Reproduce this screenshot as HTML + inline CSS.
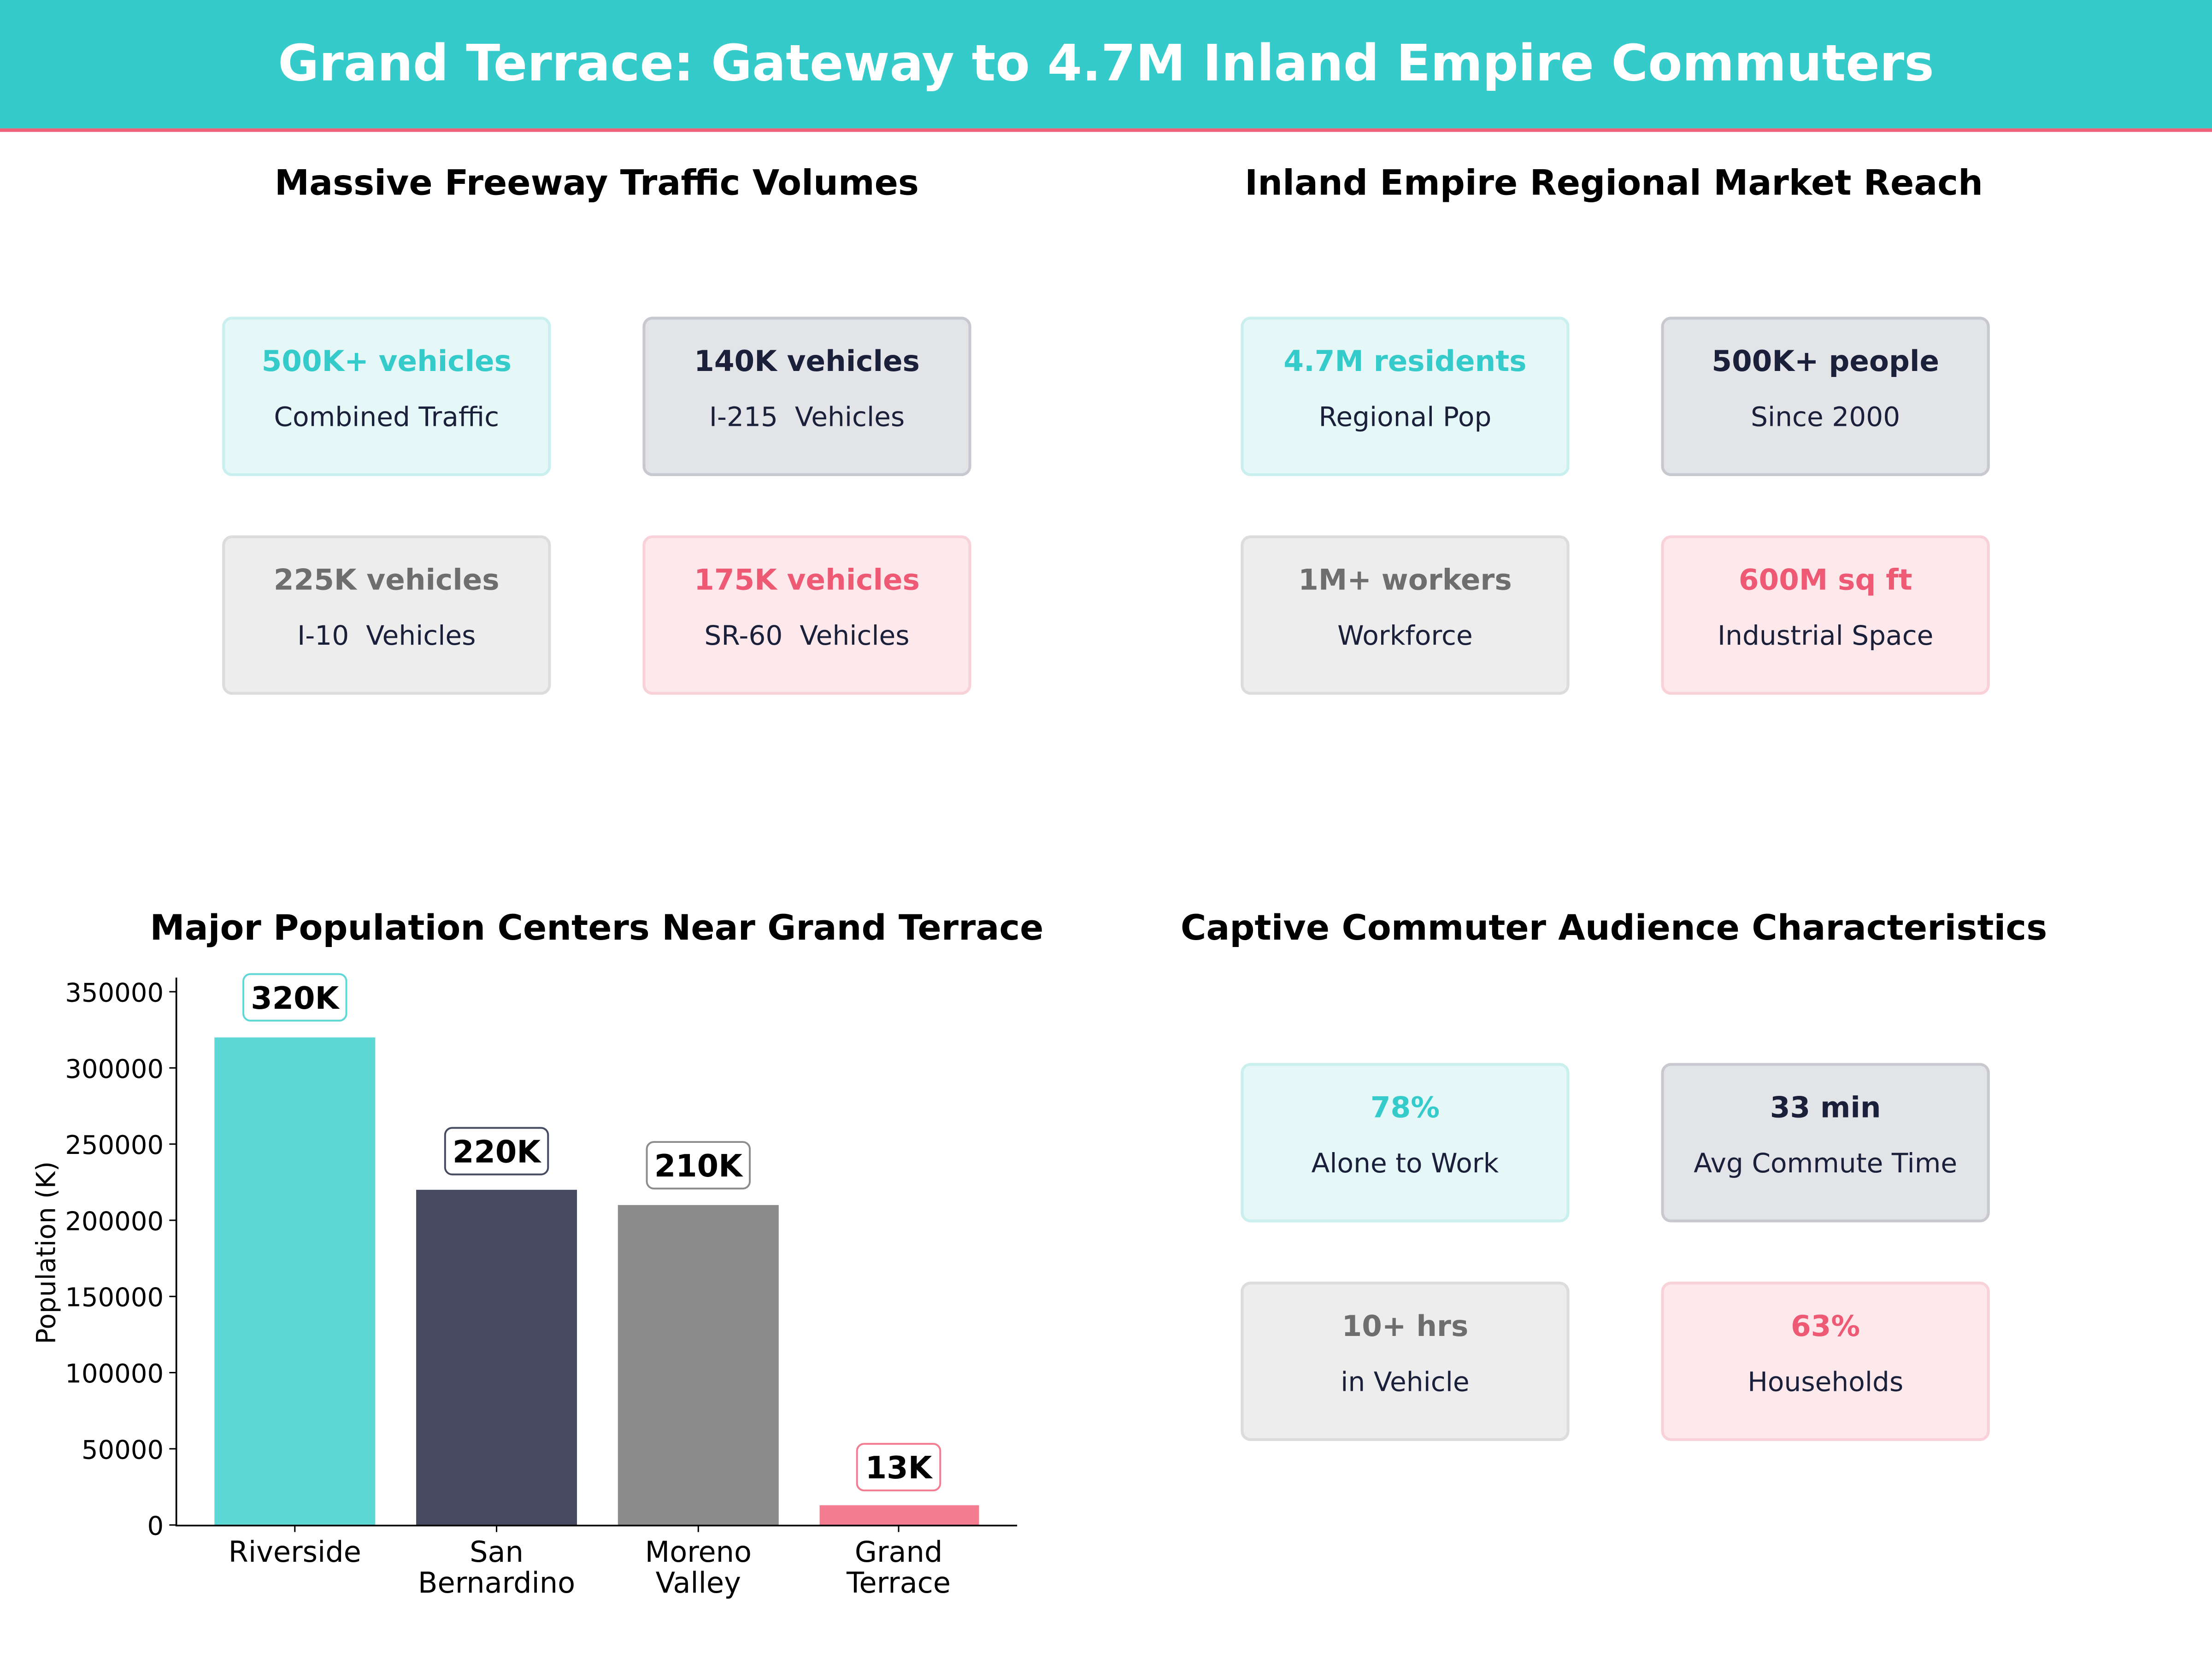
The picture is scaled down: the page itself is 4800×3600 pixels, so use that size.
<!DOCTYPE html>
<html><head><meta charset="utf-8"><style>
html,body{margin:0;padding:0;background:#fff}
svg{display:block}
text{font-family:"DejaVu Sans","Liberation Sans",sans-serif;white-space:pre}
</style></head><body>
<svg width="4800" height="3600" viewBox="0 0 1568 1176" xmlns="http://www.w3.org/2000/svg" xml:space="preserve">
<rect x="0" y="0" width="1568" height="1176" fill="#fff"/>
<rect x="0" y="0" width="1568" height="91" fill="#36CBCB"/>
<rect x="0" y="91" width="1568" height="2.5" fill="#EE6078"/>
<text x="784" y="57" text-anchor="middle" font-size="35.4" font-weight="bold" fill="#fff">Grand Terrace: Gateway to 4.7M Inland Empire Commuters</text>

<g font-size="24.7" font-weight="bold" fill="#000" text-anchor="middle">
<text x="423" y="138">Massive Freeway Traffic Volumes</text>
<text x="1144" y="138">Inland Empire Regional Market Reach</text>
<text x="423" y="666">Major Population Centers Near Grand Terrace</text>
<text x="1144" y="666">Captive Commuter Audience Characteristics</text>
</g>

<g text-anchor="middle">
<rect x="158.5" y="225.5" width="231" height="111" rx="6" fill="#E6F7F7" stroke="#C9EFEF" stroke-width="2"/>
<text x="274" y="263" font-size="20.5" font-weight="bold" fill="#36CBCB">500K+ vehicles</text>
<text x="274" y="302" font-size="19" fill="#1A1F3A">Combined Traffic</text>
<rect x="456.5" y="225.5" width="231" height="111" rx="6" fill="#E3E4E8" stroke="#C8C9D0" stroke-width="2"/>
<text x="572" y="263" font-size="20.5" font-weight="bold" fill="#1A1F3A">140K vehicles</text>
<text x="572" y="302" font-size="19" fill="#1A1F3A">I-215  Vehicles</text>
<rect x="158.5" y="380.5" width="231" height="111" rx="6" fill="#EDEDED" stroke="#DCDCDC" stroke-width="2"/>
<text x="274" y="418" font-size="20.5" font-weight="bold" fill="#6E6E6E">225K vehicles</text>
<text x="274" y="457" font-size="19" fill="#1A1F3A">I-10  Vehicles</text>
<rect x="456.5" y="380.5" width="231" height="111" rx="6" fill="#FDE8EB" stroke="#F9D2D9" stroke-width="2"/>
<text x="572" y="418" font-size="20.5" font-weight="bold" fill="#EE5A74">175K vehicles</text>
<text x="572" y="457" font-size="19" fill="#1A1F3A">SR-60  Vehicles</text>

<rect x="880.5" y="225.5" width="231" height="111" rx="6" fill="#E6F7F7" stroke="#C9EFEF" stroke-width="2"/>
<text x="996" y="263" font-size="20.5" font-weight="bold" fill="#36CBCB">4.7M residents</text>
<text x="996" y="302" font-size="19" fill="#1A1F3A">Regional Pop</text>
<rect x="1178.5" y="225.5" width="231" height="111" rx="6" fill="#E3E4E8" stroke="#C8C9D0" stroke-width="2"/>
<text x="1294" y="263" font-size="20.5" font-weight="bold" fill="#1A1F3A">500K+ people</text>
<text x="1294" y="302" font-size="19" fill="#1A1F3A">Since 2000</text>
<rect x="880.5" y="380.5" width="231" height="111" rx="6" fill="#EDEDED" stroke="#DCDCDC" stroke-width="2"/>
<text x="996" y="418" font-size="20.5" font-weight="bold" fill="#6E6E6E">1M+ workers</text>
<text x="996" y="457" font-size="19" fill="#1A1F3A">Workforce</text>
<rect x="1178.5" y="380.5" width="231" height="111" rx="6" fill="#FDE8EB" stroke="#F9D2D9" stroke-width="2"/>
<text x="1294" y="418" font-size="20.5" font-weight="bold" fill="#EE5A74">600M sq ft</text>
<text x="1294" y="457" font-size="19" fill="#1A1F3A">Industrial Space</text>

<rect x="880.5" y="754.5" width="231" height="111" rx="6" fill="#E6F7F7" stroke="#C9EFEF" stroke-width="2"/>
<text x="996" y="792" font-size="20.5" font-weight="bold" fill="#36CBCB">78%</text>
<text x="996" y="831" font-size="19" fill="#1A1F3A">Alone to Work</text>
<rect x="1178.5" y="754.5" width="231" height="111" rx="6" fill="#E3E4E8" stroke="#C8C9D0" stroke-width="2"/>
<text x="1294" y="792" font-size="20.5" font-weight="bold" fill="#1A1F3A">33 min</text>
<text x="1294" y="831" font-size="19" fill="#1A1F3A">Avg Commute Time</text>
<rect x="880.5" y="909.5" width="231" height="111" rx="6" fill="#EDEDED" stroke="#DCDCDC" stroke-width="2"/>
<text x="996" y="947" font-size="20.5" font-weight="bold" fill="#6E6E6E">10+ hrs</text>
<text x="996" y="986" font-size="19" fill="#1A1F3A">in Vehicle</text>
<rect x="1178.5" y="909.5" width="231" height="111" rx="6" fill="#FDE8EB" stroke="#F9D2D9" stroke-width="2"/>
<text x="1294" y="947" font-size="20.5" font-weight="bold" fill="#EE5A74">63%</text>
<text x="1294" y="986" font-size="19" fill="#1A1F3A">Households</text>
</g>

<rect x="152" y="735.4" width="114" height="345.6" fill="#5DD8D5"/>
<rect x="295" y="843.4" width="114" height="237.6" fill="#464B61"/>
<rect x="438" y="854.2" width="114" height="226.8" fill="#8C8C8C"/>
<rect x="581" y="1067" width="113" height="14" fill="#F47C90"/>
<line x1="125" y1="693" x2="125" y2="1081.6" stroke="#000" stroke-width="1.2"/>
<line x1="124.4" y1="1081.4" x2="721" y2="1081.4" stroke="#000" stroke-width="1.2"/>
<g stroke="#000" stroke-width="1">
<line x1="120" y1="1081" x2="125" y2="1081"/>
<line x1="120" y1="1027" x2="125" y2="1027"/>
<line x1="120" y1="973" x2="125" y2="973"/>
<line x1="120" y1="919" x2="125" y2="919"/>
<line x1="120" y1="865" x2="125" y2="865"/>
<line x1="120" y1="811" x2="125" y2="811"/>
<line x1="120" y1="757" x2="125" y2="757"/>
<line x1="120" y1="703" x2="125" y2="703"/>
<line x1="209" y1="1081" x2="209" y2="1086"/>
<line x1="352" y1="1081" x2="352" y2="1086"/>
<line x1="495" y1="1081" x2="495" y2="1086"/>
<line x1="637" y1="1081" x2="637" y2="1086"/>
</g>
<g font-size="18.3" text-anchor="end" fill="#000">
<text x="116" y="1088">0</text>
<text x="116" y="1034">50000</text>
<text x="116" y="980">100000</text>
<text x="116" y="926">150000</text>
<text x="116" y="872">200000</text>
<text x="116" y="818">250000</text>
<text x="116" y="764">300000</text>
<text x="116" y="710">350000</text>
</g>
<text transform="translate(39,888) rotate(-90)" text-anchor="middle" font-size="18.5" fill="#000">Population (K)</text>
<g font-size="20.3" text-anchor="middle" fill="#000">
<text x="209" y="1107">Riverside</text>
<text x="352" y="1107">San</text><text x="352" y="1129">Bernardino</text>
<text x="495" y="1107">Moreno</text><text x="495" y="1129">Valley</text>
<text x="637" y="1107">Grand</text><text x="637" y="1129">Terrace</text>
</g>
<g font-size="21.8" font-weight="bold" text-anchor="middle" fill="#000">
<rect x="172.5" y="690.5" width="73" height="33" rx="5" fill="#fff" stroke="#5DD8D5" stroke-width="1.3"/>
<text x="209" y="715">320K</text>
<rect x="315.5" y="799.5" width="73" height="33" rx="5" fill="#fff" stroke="#464B61" stroke-width="1.3"/>
<text x="352" y="824">220K</text>
<rect x="458.5" y="809.5" width="73" height="33" rx="5" fill="#fff" stroke="#8C8C8C" stroke-width="1.3"/>
<text x="495" y="834">210K</text>
<rect x="607.5" y="1023.5" width="59" height="33" rx="5" fill="#fff" stroke="#F47C90" stroke-width="1.3"/>
<text x="637" y="1048">13K</text>
</g>
</svg>
</body></html>
